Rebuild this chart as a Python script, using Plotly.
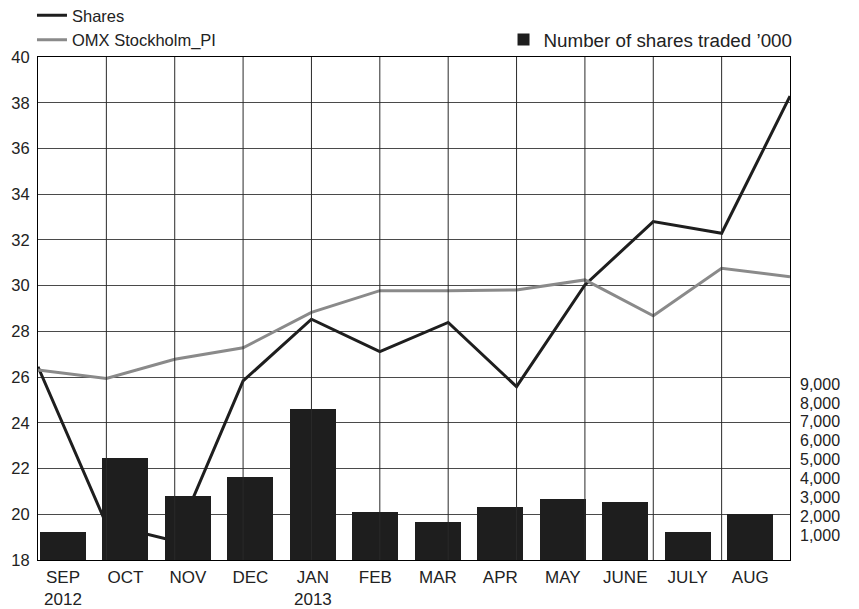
import plotly.graph_objects as go

# ---- data ----
months = ["SEP<br>2012", "OCT", "NOV", "DEC", "JAN<br>2013", "FEB", "MAR",
          "APR", "MAY", "JUNE", "JULY", "AUG"]
shares = [26.45, 19.57, 18.83, 25.83, 28.53, 27.11, 28.39, 25.58, 30.03, 32.80, 32.29, 38.29]
omx = [26.31, 25.94, 26.78, 27.28, 28.83, 29.78, 29.78, 29.81, 30.25, 28.68, 30.76, 30.39]
traded = [1160, 5110, 3100, 4105, 7675, 2250, 1720, 2515, 2905, 2780, 1190, 2115]
left_ticks = list(range(18, 41, 2))
right_ticks = [1000, 2000, 3000, 4000, 5000, 6000, 7000, 8000, 9000]

# ---- axis extents ----
Y_MIN, Y_MAX = 18, 40
Y2_MIN, Y2_MAX = -306, 26290

FONT = "Liberation Sans, Arial, sans-serif"
TXT = "#222222"
BAR = "#1e1e1e"
GRID = "#4a4a4a"

fig = go.Figure()

fig.add_trace(go.Scatter(
    x=months, y=shares, name="Shares", mode="lines",
    line=dict(color="#1e1e1e", width=3), xaxis="x", yaxis="y",
    legend="legend", legendgroup="a", hoverinfo="skip"))
fig.add_trace(go.Scatter(
    x=months, y=omx, name="OMX Stockholm_PI", mode="lines",
    line=dict(color="#8a8a8a", width=3), xaxis="x", yaxis="y",
    legend="legend", legendgroup="b", hoverinfo="skip"))
fig.add_trace(go.Bar(
    x=months, y=[v - Y2_MIN for v in traded], base=Y2_MIN,
    name="Number of shares traded \u2019000", width=0.736,
    marker=dict(color=BAR, line=dict(width=0)),
    xaxis="x2", yaxis="y2", legend="legend2", hoverinfo="skip"))

shapes = []
for m in months[1:-1]:
    shapes.append(dict(type="line", xref="x", yref="paper", x0=m, x1=m, y0=0, y1=1,
                       layer="above", line=dict(color="#2a2a2a", width=1)))

fig.update_layout(
    width=859, height=609,
    margin=dict(l=38, r=69, t=57, b=49, autoexpand=False),
    paper_bgcolor="white", plot_bgcolor="white",
    font=dict(family=FONT, color=TXT, size=16),
    showlegend=True,
    xaxis=dict(type="category", range=[0, len(months) - 1], showticklabels=False,
               showgrid=False, zeroline=False, showline=True, mirror=True,
               linecolor="black", linewidth=1, fixedrange=True, automargin=False),
    xaxis2=dict(type="category", overlaying="x", side="bottom", anchor="y",
                range=[-0.4, 11.636], showgrid=False, zeroline=False,
                showline=False, tickfont=dict(size=17, color=TXT),
                ticks="", ticklabelstandoff=5, automargin=False),
    yaxis=dict(range=[Y_MIN, Y_MAX], tickvals=left_ticks, showgrid=True,
               gridcolor=GRID, gridwidth=1, zeroline=False, showline=True,
               mirror=True, linecolor="black", linewidth=1, ticks="",
               tickfont=dict(size=16.5, color=TXT), ticklabelstandoff=4,
               automargin=False),
    yaxis2=dict(range=[Y2_MIN, Y2_MAX], overlaying="y", side="right", anchor="x2",
                tickvals=right_ticks, tickformat=",d", showgrid=False,
                zeroline=False, showline=False, ticks="",
                tickfont=dict(size=16, color=TXT), ticklabelstandoff=9,
                automargin=False),
    legend=dict(x=-0.008, xanchor="left", y=1.117, yanchor="top",
                bgcolor="rgba(0,0,0,0)", font=dict(size=16.5, color=TXT),
                tracegroupgap=6, itemwidth=30, traceorder="normal"),
    legend2=dict(x=1.01, xanchor="right", y=1.034, yanchor="middle",
                 bgcolor="rgba(0,0,0,0)", font=dict(size=18.8, color=TXT)),
    bargap=0,
    shapes=shapes,
)

fig.write_html("out.html", config={"displayModeBar": False},
               post_script="document.body.style.margin='0';document.body.style.padding='0';")
